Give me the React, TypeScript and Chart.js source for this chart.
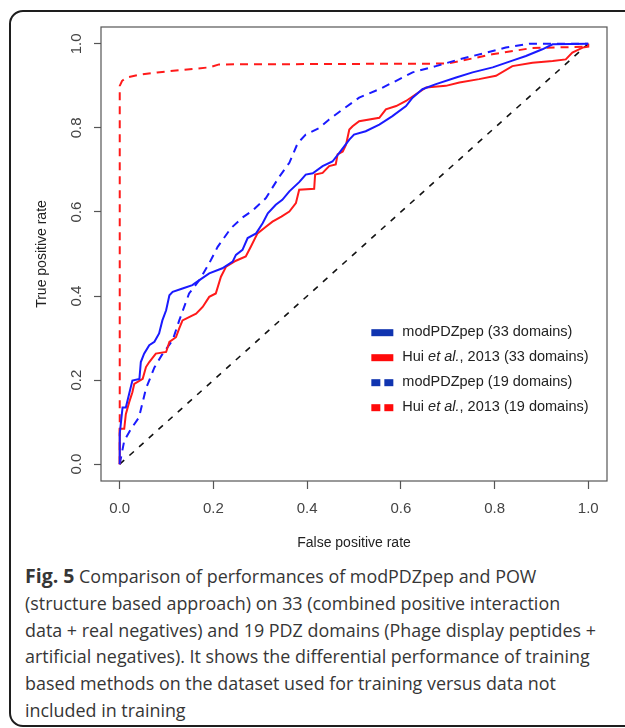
import React, { useEffect, useRef } from 'react';
import { Chart, registerables } from 'chart.js';

Chart.register(...registerables);

// ---- data ----
const xTickValues = [0, 0.2, 0.4, 0.6, 0.8, 1.0];
const yTickValues = [0, 0.2, 0.4, 0.6, 0.8, 1.0];

const modPDZ33Fpr = [0, 0, 0.006, 0.013, 0.02, 0.027, 0.042, 0.045, 0.052, 0.063, 0.074, 0.084, 0.091, 0.099, 0.106, 0.113, 0.134, 0.155, 0.17, 0.191, 0.219, 0.241, 0.248, 0.262, 0.273, 0.291, 0.305, 0.316, 0.333, 0.347, 0.362, 0.383, 0.397, 0.412, 0.433, 0.454, 0.469, 0.49, 0.5, 0.525, 0.554, 0.582, 0.611, 0.625, 0.646, 0.675, 0.718, 0.753, 0.796, 0.838, 0.867, 0.902, 0.924, 1.0];
const modPDZ33Tpr = [0, 0.072, 0.135, 0.135, 0.167, 0.199, 0.203, 0.243, 0.263, 0.283, 0.291, 0.311, 0.342, 0.366, 0.402, 0.41, 0.418, 0.426, 0.438, 0.454, 0.466, 0.482, 0.498, 0.51, 0.538, 0.549, 0.573, 0.597, 0.617, 0.629, 0.649, 0.671, 0.689, 0.692, 0.709, 0.72, 0.741, 0.772, 0.784, 0.792, 0.808, 0.828, 0.852, 0.872, 0.892, 0.904, 0.92, 0.932, 0.944, 0.96, 0.971, 0.987, 0.999, 1.0];

const hui33Fpr = [0, 0, 0.0096, 0.013, 0.02, 0.027, 0.031, 0.049, 0.056, 0.063, 0.077, 0.099, 0.106, 0.12, 0.127, 0.134, 0.148, 0.163, 0.177, 0.191, 0.205, 0.216, 0.227, 0.248, 0.269, 0.28, 0.294, 0.312, 0.326, 0.345, 0.362, 0.376, 0.383, 0.415, 0.417, 0.433, 0.447, 0.461, 0.465, 0.476, 0.483, 0.49, 0.497, 0.511, 0.554, 0.568, 0.59, 0.611, 0.632, 0.654, 0.696, 0.725, 0.767, 0.803, 0.838, 0.881, 0.924, 0.952, 0.966, 0.988, 1.0, 1.0];
const hui33Tpr = [0, 0.084, 0.084, 0.119, 0.147, 0.171, 0.191, 0.203, 0.231, 0.243, 0.263, 0.267, 0.291, 0.302, 0.323, 0.342, 0.35, 0.358, 0.374, 0.398, 0.406, 0.446, 0.47, 0.484, 0.494, 0.518, 0.549, 0.565, 0.577, 0.589, 0.601, 0.621, 0.653, 0.655, 0.689, 0.693, 0.709, 0.713, 0.737, 0.744, 0.76, 0.796, 0.804, 0.816, 0.824, 0.844, 0.852, 0.864, 0.88, 0.896, 0.9, 0.908, 0.916, 0.924, 0.947, 0.955, 0.959, 0.963, 0.979, 0.991, 0.993, 1.0];

const modPDZ19Fpr = [0, 0.0096, 0.024, 0.041, 0.056, 0.074, 0.09, 0.113, 0.127, 0.148, 0.17, 0.191, 0.209, 0.237, 0.262, 0.283, 0.312, 0.34, 0.362, 0.38, 0.397, 0.426, 0.447, 0.476, 0.511, 0.554, 0.59, 0.625, 0.675, 0.725, 0.782, 0.824, 0.874, 1.0];
const modPDZ19Tpr = [0, 0.056, 0.084, 0.111, 0.18, 0.23, 0.26, 0.295, 0.342, 0.406, 0.438, 0.478, 0.517, 0.561, 0.587, 0.603, 0.633, 0.683, 0.717, 0.764, 0.784, 0.8, 0.82, 0.844, 0.872, 0.892, 0.912, 0.932, 0.947, 0.963, 0.979, 0.991, 1.0, 1.0];

const hui19Fpr = [0, 0, 0.005, 0.015, 0.04, 0.08, 0.191, 0.212, 0.7, 0.795, 0.88, 0.995, 1.0];
const hui19Tpr = [0, 0.9, 0.912, 0.92, 0.926, 0.932, 0.944, 0.951, 0.953, 0.975, 0.99, 0.993, 1.0];

const chanceFpr = [0, 1];
const chanceTpr = [0, 1];

const legendLabels = [
  { pre: 'modPDZpep (33 domains)', it: '', post: '' },
  { pre: 'Hui ', it: 'et al.', post: ', 2013 (33 domains)' },
  { pre: 'modPDZpep (19 domains)', it: '', post: '' },
  { pre: 'Hui ', it: 'et al.', post: ', 2013 (19 domains)' },
];

const BLUE = '#1a1aff';
const RED = '#ff1a1a';
const LEG_BLUE = '#1034b0';
const LEG_RED = '#ff0a0a';
const FONT = "'Liberation Sans', Arial, Helvetica, sans-serif";

const zip = (xs: number[], ys: number[]) => xs.map((x, i) => ({ x, y: ys[i] }));

const boxPlugin = {
  id: 'plotBox',
  afterDraw(chart: any) {
    const { ctx, chartArea: a } = chart;
    ctx.save();
    ctx.strokeStyle = '#555';
    ctx.lineWidth = 1.2;
    ctx.strokeRect(a.left, a.top, a.right - a.left, a.bottom - a.top);
    ctx.restore();
  },
};

const legendPlugin = {
  id: 'rocLegend',
  afterDraw(chart: any) {
    const { ctx, scales } = chart;
    const xs = scales.x;
    const ys = scales.y;
    const left = xs.getPixelForValue(0.537);
    const top = ys.getPixelForValue(0.314);
    const styles = [
      { color: LEG_BLUE, dashed: false },
      { color: LEG_RED, dashed: false },
      { color: LEG_BLUE, dashed: true },
      { color: LEG_RED, dashed: true },
    ];
    ctx.save();
    legendLabels.forEach((lab, i) => {
      const cy = top + i * 25;
      const st = styles[i];
      ctx.fillStyle = st.color;
      if (st.dashed) {
        ctx.fillRect(left, cy - 3, 9, 7);
        ctx.fillRect(left + 13, cy - 3, 9, 7);
      } else {
        ctx.fillRect(left, cy - 3, 22, 7);
      }
      ctx.fillStyle = '#222';
      ctx.textBaseline = 'middle';
      ctx.textAlign = 'left';
      let tx = left + 31;
      ctx.font = `14.5px ${FONT}`;
      ctx.fillText(lab.pre, tx, cy);
      tx += ctx.measureText(lab.pre).width;
      if (lab.it) {
        ctx.font = `italic 14.5px ${FONT}`;
        ctx.fillText(lab.it, tx, cy);
        tx += ctx.measureText(lab.it).width;
        ctx.font = `14.5px ${FONT}`;
        ctx.fillText(lab.post, tx, cy);
      }
    });
    ctx.restore();
  },
};

function RocChart() {
  const ref = useRef<HTMLCanvasElement | null>(null);
  useEffect(() => {
    if (!ref.current) return;
    const chart = new Chart(ref.current, {
      type: 'line',
      data: {
        datasets: [
          { label: 'modPDZpep (33 domains)', data: zip(modPDZ33Fpr, modPDZ33Tpr), borderColor: BLUE, borderWidth: 2 },
          { label: 'Hui et al., 2013 (33 domains)', data: zip(hui33Fpr, hui33Tpr), borderColor: RED, borderWidth: 2 },
          { label: 'modPDZpep (19 domains)', data: zip(modPDZ19Fpr, modPDZ19Tpr), borderColor: BLUE, borderWidth: 2, borderDash: [8, 6] },
          { label: 'Hui et al., 2013 (19 domains)', data: zip(hui19Fpr, hui19Tpr), borderColor: RED, borderWidth: 2, borderDash: [8, 6] },
          { label: 'chance', data: zip(chanceFpr, chanceTpr), borderColor: '#111', borderWidth: 1.6, borderDash: [6, 7] },
        ] as any,
      },
      options: {
        animation: false,
        responsive: false,
        devicePixelRatio: 1,
        parsing: false as any,
        elements: { point: { radius: 0 }, line: { tension: 0, fill: false } },
        layout: { padding: { left: 0, top: 27, right: 18, bottom: 0 } },
        plugins: { legend: { display: false }, tooltip: { enabled: false } },
        scales: {
          x: {
            type: 'linear',
            position: 'bottom',
            min: -0.04,
            max: 1.04,
            afterBuildTicks: (s: any) => { s.ticks = xTickValues.map((v) => ({ value: v })); },
            afterFit: (s: any) => { s.height = 79; },
            grid: { drawOnChartArea: false, drawTicks: true, tickLength: 8, tickColor: '#555', tickWidth: 1.2 },
            border: { display: false },
            ticks: {
              autoSkip: false,
              maxRotation: 0,
              padding: 11,
              color: '#444',
              font: { family: FONT, size: 15 },
              callback: (v: any) => Number(v).toFixed(1),
            },
            title: { display: true, text: 'False positive rate', color: '#222', font: { family: FONT, size: 14 }, padding: { top: 0, bottom: 8.6 } },
          },
          y: {
            type: 'linear',
            position: 'left',
            min: -0.04,
            max: 1.04,
            afterBuildTicks: (s: any) => { s.ticks = yTickValues.map((v) => ({ value: v })); },
            afterFit: (s: any) => { s.width = 101; },
            grid: { drawOnChartArea: false, drawTicks: true, tickLength: 7, tickColor: '#555', tickWidth: 1.2 },
            border: { display: false },
            ticks: {
              autoSkip: false,
              minRotation: 90,
              maxRotation: 90,
              crossAlign: 'center',
              padding: 7,
              color: '#444',
              font: { family: FONT, size: 15 },
              callback: (v: any) => Number(v).toFixed(1),
            },
            title: { display: true, text: 'True positive rate', color: '#222', font: { family: FONT, size: 14 }, padding: { top: 33.6, bottom: 0 } },
          },
        },
      } as any,
      plugins: [boxPlugin, legendPlugin],
    });
    return () => chart.destroy();
  }, []);
  return <canvas ref={ref} width={625} height={560} style={{ position: 'absolute', left: 0, top: 0, width: 625, height: 560 }} />;
}

export default function App() {
  return (
    <div style={{ position: 'fixed', left: 0, top: 0, width: 625, height: 728, overflow: 'hidden', background: '#fff' }}>
      <div style={{ position: 'absolute', left: 9, top: 10, width: 720, height: 717, boxSizing: 'border-box', border: '2px solid #1e1e1e', borderRadius: 14 }} />
      <RocChart />
      <div style={{ position: 'absolute', left: 25, top: 563, fontFamily: "'Open Sans', sans-serif", fontSize: 17.9, lineHeight: '26.8px', color: '#363636', whiteSpace: 'nowrap' }}>
        <b style={{ fontSize: 19.5 }}>Fig. 5</b> Comparison of performances of modPDZpep and POW<br />
        (structure based approach) on 33 (combined positive interaction<br />
        data + real negatives) and 19 PDZ domains (Phage display peptides +<br />
        artificial negatives). It shows the differential performance of training<br />
        based methods on the dataset used for training versus data not<br />
        included in training
      </div>
    </div>
  );
}
